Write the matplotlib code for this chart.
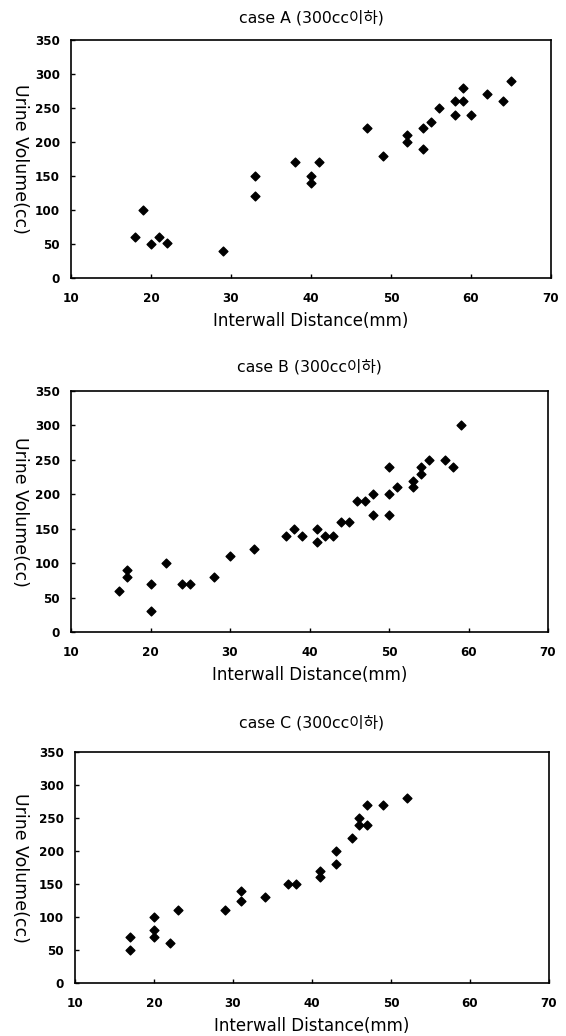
import matplotlib
matplotlib.use("Agg")
import matplotlib.pyplot as plt

plt.rcParams['font.family'] = ['DejaVu Sans', 'Noto Sans CJK KR']

titles = ["case A (300cc이하)", "case B (300cc이하)", "case C (300cc이하)"]
x_label = "Interwall Distance(mm)"
y_label = "Urine Volume(cc)"
x_ticks = [10, 20, 30, 40, 50, 60, 70]
y_ticks = [0, 50, 100, 150, 200, 250, 300, 350]

a_x = [18, 19, 20, 21, 22, 29, 33, 33, 38, 40, 40, 41, 47, 49, 52, 52, 54, 54,
       55, 56, 58, 58, 59, 59, 60, 62, 64, 65]
a_y = [60, 100, 50, 60, 52, 40, 150, 120, 170, 150, 140, 170, 220, 180, 210, 200,
       220, 190, 230, 250, 240, 260, 280, 260, 240, 270, 260, 290]

b_x = [16, 17, 17, 20, 20, 22, 24, 25, 28, 30, 33, 37, 38, 39, 41, 41, 42, 43,
       44, 45, 46, 47, 48, 48, 50, 50, 50, 51, 53, 53, 54, 54, 55, 57, 58, 59]
b_y = [60, 90, 80, 70, 30, 100, 70, 70, 80, 110, 120, 140, 150, 140, 150, 130,
       140, 140, 160, 160, 190, 190, 170, 200, 170, 200, 240, 210, 210, 220,
       230, 240, 250, 250, 240, 300]

c_x = [17, 17, 20, 20, 20, 22, 23, 29, 31, 31, 34, 37, 38, 41, 41, 43, 43, 45,
       46, 46, 47, 47, 49, 52]
c_y = [70, 50, 100, 80, 70, 60, 110, 110, 140, 125, 130, 150, 150, 170, 160,
       200, 180, 220, 250, 240, 270, 240, 270, 280]

W, H = 566, 1036
fig = plt.figure(figsize=(W / 100, H / 100), dpi=100)

# (left, right, top, bottom) in pixels
boxes = [(71, 551, 40, 278), (71, 548, 391, 632), (75, 549, 752, 983)]
title_y = [18, 367, 723]
data = [(a_x, a_y), (b_x, b_y), (c_x, c_y)]

tick_font = dict(family='DejaVu Sans', weight='bold', stretch='condensed', size=9.5)

for (l, r, t, b), ty, (xs, ys), title in zip(boxes, title_y, data, titles):
    ax = fig.add_axes([l / W, 1 - b / H, (r - l) / W, (b - t) / H])
    ax.scatter(xs, ys, marker='D', s=20, color='black', zorder=3)
    ax.set_xlim(10, 70)
    ax.set_ylim(0, 350)
    ax.set_xticks(x_ticks)
    ax.set_yticks(y_ticks)
    ax.set_xticklabels([str(v) for v in x_ticks], fontdict=tick_font)
    ax.set_yticklabels([str(v) for v in y_ticks], fontdict=tick_font)
    ax.tick_params(direction='in', length=3, width=1, colors='black')
    ax.tick_params(axis='x', pad=10)
    ax.tick_params(axis='y', pad=8)
    for s in ax.spines.values():
        s.set_linewidth(1.2)
        s.set_color('black')
    ax.set_xlabel(x_label, fontsize=12, labelpad=5)
    ax.set_ylabel(y_label, fontsize=12.5, rotation=270, va='center', ha='center')
    ax.yaxis.set_label_coords((20 - l) / (r - l), 0.5)
    fig.text((l + r) / 2 / W, 1 - ty / H, title, ha='center', va='center', fontsize=11.3)

fig.savefig("out.png", dpi=100, facecolor='white')
